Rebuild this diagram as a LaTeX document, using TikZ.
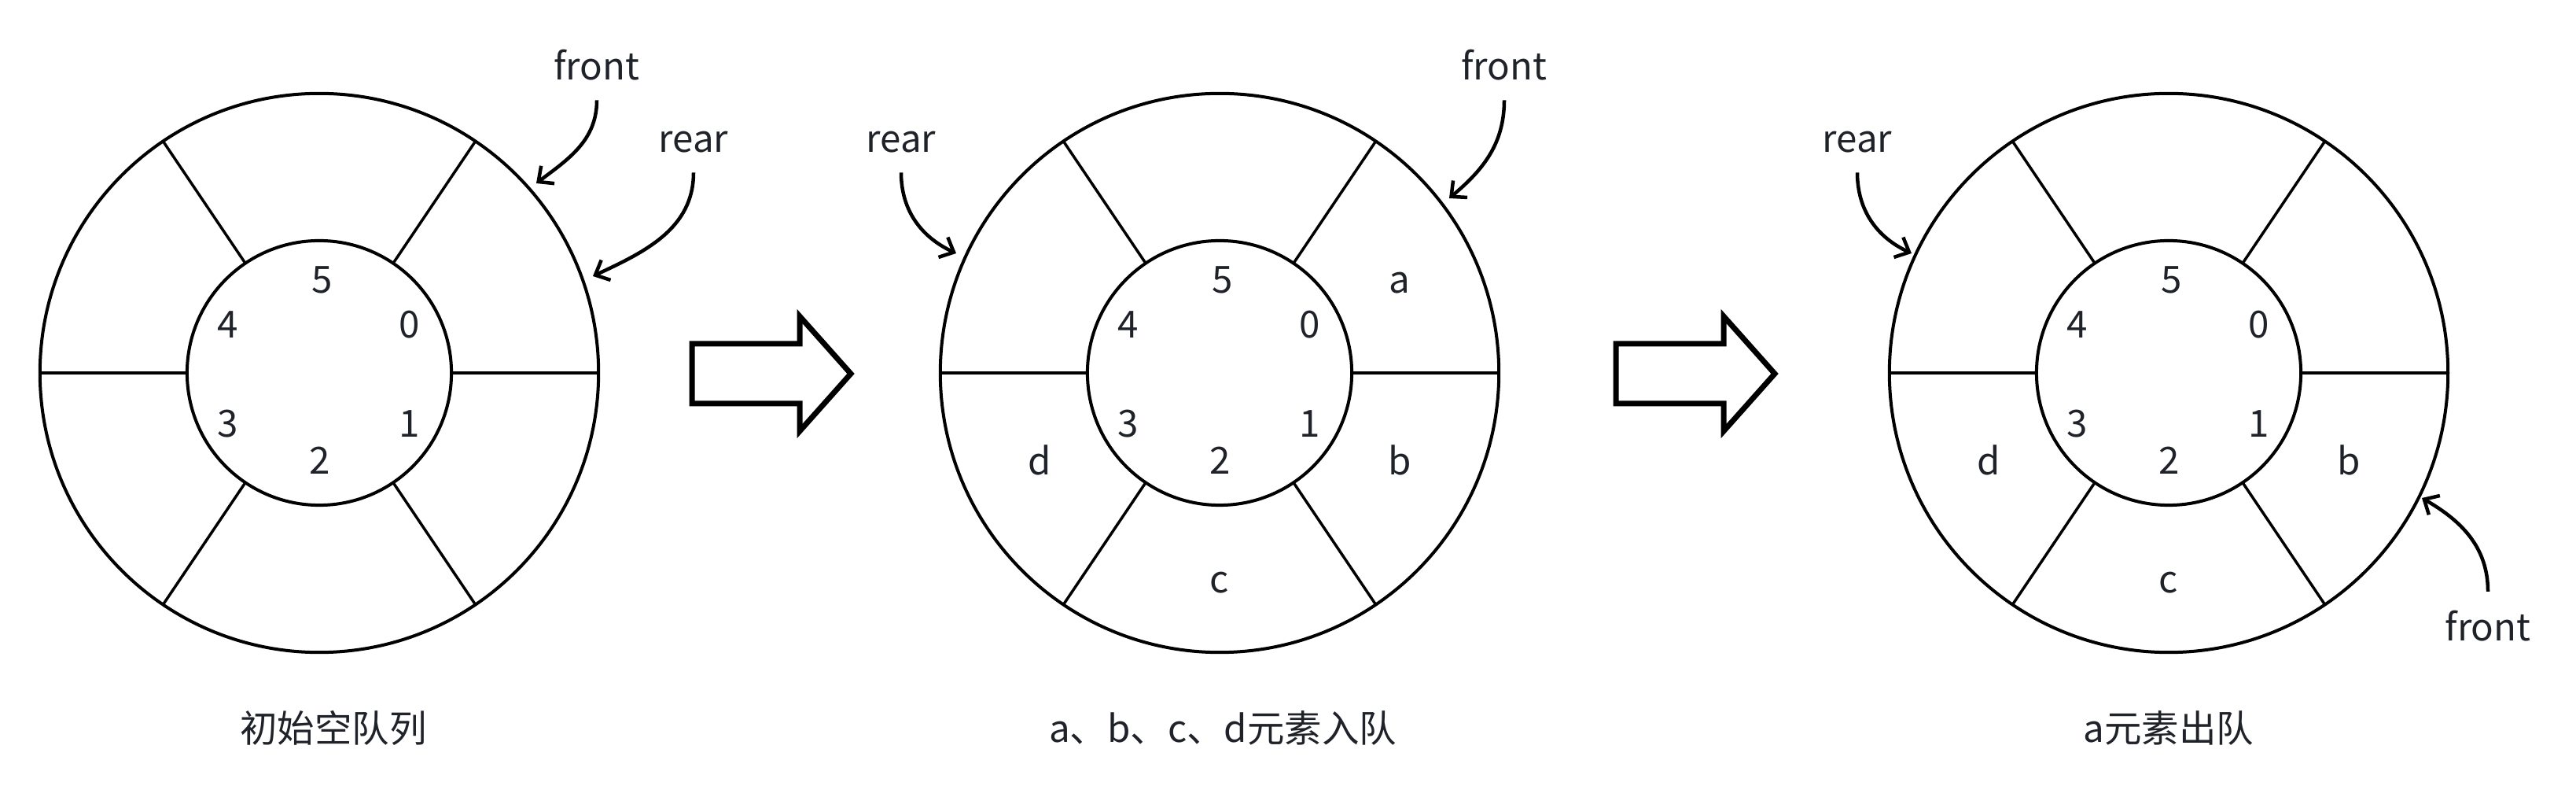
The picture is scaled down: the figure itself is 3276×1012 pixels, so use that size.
\documentclass[tikz,border=0pt]{standalone}
\usepackage{fontspec}
\setmainfont{Noto Sans CJK SC}
\usepackage{xcolor}
\usepackage{tikz}
\usetikzlibrary{arrows.meta, positioning}

\definecolor{txtgray}{RGB}{31,35,41}

\begin{document}
\begin{tikzpicture}[x=0.01cm, y=0.01cm,
    ring/.style={circle, draw, line width=0.04cm, outer sep=0pt, inner sep=0pt},
    spoke/.style={line width=0.035cm},
    lbl/.style={text=txtgray, anchor=base, inner sep=0pt, font=\fontsize{13.5}{16}\selectfont},
    tag/.style={lbl, inner ysep=0.24cm},
    ptr/.style={line width=0.045cm, -{Straight Barb[length=1.5mm, width=2.8mm]}},
    bigarrow/.style={line width=0.07cm, line join=miter}]

  \useasboundingbox (0,0) rectangle (3276,1012);

  % rings with spokes and slot numbers
  \foreach \s/\cx in {1/406, 2/1551, 3/2758}{
    \node[ring, minimum size=7.1cm] (out\s) at (\cx,538) {};
    \node[ring, minimum size=3.36cm] (in\s) at (\cx,538) {};
    \foreach \a in {0,56,124,180,236,304}
      \draw[spoke] (in\s.\a) -- (out\s.\a);
    \node[lbl] (n\s-5) at (\cx+4,639) {5};
    \node[lbl] (n\s-0) at (\cx+115,582) {0};
    \node[lbl] (n\s-1) at (\cx+115,456) {1};
    \node[lbl] (n\s-2) at (\cx+1,409) {2};
    \node[lbl] (n\s-3) at (\cx-116,456) {3};
    \node[lbl] (n\s-4) at (\cx-116,582) {4};
  }

  % big hollow arrows
  \foreach \x in {880, 2055}
    \draw[bigarrow] (\x,575) -- (\x+137,575) -- (\x+137,610) -- (\x+202,537)
      -- (\x+137,464) -- (\x+137,499) -- (\x,499) -- cycle;

  % queue elements
  \node[lbl] (a2) at (1780,639) {a};
  \foreach \s/\cx in {2/1551, 3/2758}{
    \node[lbl] (b\s) at (\cx+229,408) {b};
    \node[lbl] (c\s) at (\cx,258) {c};
    \node[lbl] (d\s) at (\cx-229,408) {d};
  }

  % pointers, empty queue
  \node[tag] (front1) at (759,910) {front};
  \node[tag] (rear1) at (882,818) {rear};
  \coordinate (fhit1) at (682,779);
  \coordinate (rhit1) at (754,661);
  \draw[ptr] (front1.south) to[out=-90, in=37] (fhit1);
  \draw[ptr] (rear1.south) to[out=-90, in=25] (rhit1);

  % pointers, after enqueue
  \node[tag] (rear2) at (1146,818) {rear};
  \node[tag] (front2) at (1913,910) {front};
  \coordinate (rhit2) at (1216,690);
  \coordinate (fhit2) at (1843,760);
  \draw[ptr] (rear2.south) to[out=-90, in=155] (rhit2);
  \draw[ptr] (front2.south) to[out=-90, in=40] (fhit2);

  % pointers, after dequeue
  \node[tag] (rear3) at (2362,818) {rear};
  \node[tag] (front3) at (3164,197) {front};
  \coordinate (rhit3) at (2431,690);
  \coordinate (fhit3) at (3080,379);
  \draw[ptr] (rear3.south) to[out=-90, in=155] (rhit3);
  \draw[ptr] (front3.north) to[out=90, in=-30] (fhit3);

  % captions
  \node[lbl] (cap1) at (424,69) {初始空队列};
  \node[lbl] (cap2) at (1555,69) {a、b、c、d元素入队};
  \node[lbl] (cap3) at (2758,69) {a元素出队};

\end{tikzpicture}
\end{document}
